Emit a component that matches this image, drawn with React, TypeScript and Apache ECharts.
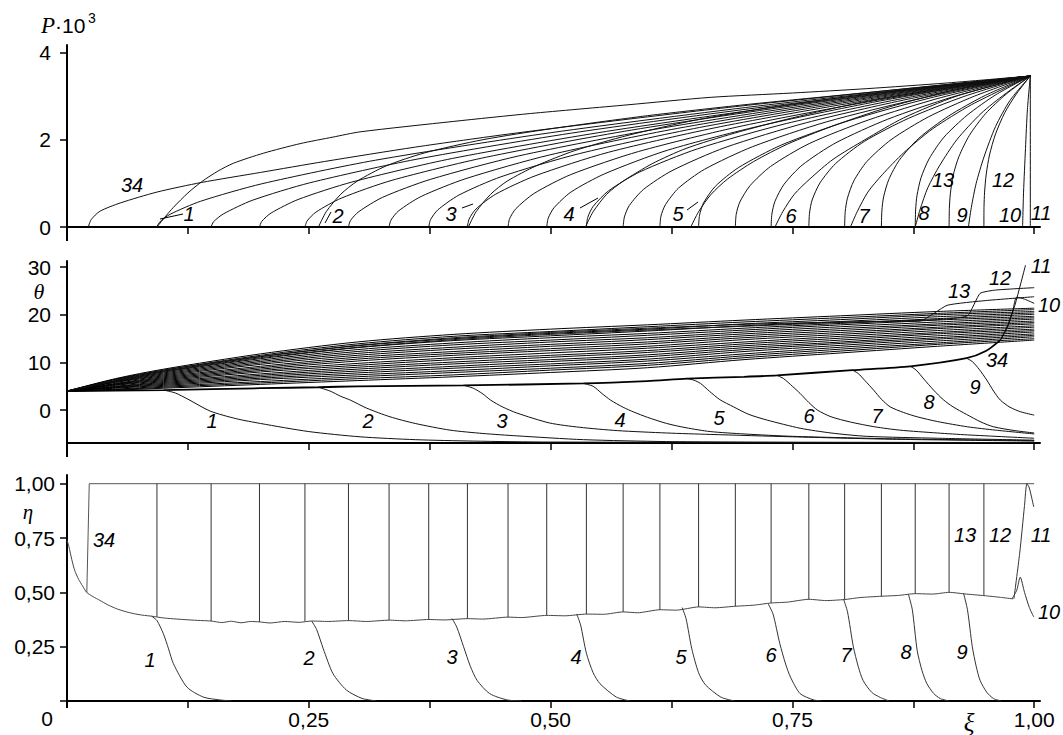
import React, { useEffect, useRef } from "react";
import * as echarts from "echarts";

// ---------------- axes ----------------
const XI_TICKS = [0, 0.125, 0.25, 0.375, 0.5, 0.625, 0.75, 0.875, 1];
const XI_LABELS = [0.25, 0.5, 0.75, 1];
const P_TICKS = [0, 2, 4];
const THETA_TICKS = [0, 10, 20, 30];
const ETA_TICKS = [0, 0.25, 0.5, 0.75, 1];
const ETA_LABELS = [0.25, 0.5, 0.75, 1];

// ---------------- P·10^3 (top panel) ----------------
const P1 = [[0.093,0],[0.101,0.22],[0.11,0.45],[0.125,0.78],[0.14,1.05],[0.156,1.28],[0.172,1.46],[0.203,1.69],[0.241,1.91],[0.275,2.06],[0.303,2.18],[0.4,2.42],[0.479,2.6],[0.58,2.8],[0.665,2.97],[0.75,3.07],[0.827,3.17],[0.91,3.3],[0.996,3.46]];
const P2 = [[0.26,0],[0.268,0.35],[0.283,0.75],[0.3,1.05],[0.33,1.4],[0.37,1.7],[0.43,2.0],[0.5,2.25],[0.6,2.55],[0.7,2.8],[0.8,3.02],[0.9,3.24],[0.996,3.46]];
const P3 = [[0.415,0],[0.423,0.35],[0.438,0.75],[0.455,1.05],[0.485,1.4],[0.525,1.75],[0.58,2.1],[0.65,2.45],[0.73,2.75],[0.82,3.02],[0.9,3.22],[0.996,3.46]];
const P4 = [[0.536,0],[0.544,0.35],[0.558,0.75],[0.575,1.05],[0.605,1.45],[0.64,1.8],[0.69,2.15],[0.75,2.5],[0.82,2.85],[0.9,3.15],[0.996,3.46]];
const P5 = [[0.645,0],[0.653,0.35],[0.666,0.75],[0.683,1.1],[0.71,1.5],[0.745,1.9],[0.79,2.3],[0.85,2.75],[0.92,3.15],[0.996,3.46]];
const P6 = [[0.732,0],[0.74,0.35],[0.752,0.75],[0.768,1.1],[0.792,1.55],[0.825,2.0],[0.865,2.5],[0.92,3.0],[0.996,3.46]];
const P7 = [[0.81,0],[0.817,0.35],[0.828,0.8],[0.843,1.2],[0.865,1.7],[0.895,2.25],[0.935,2.8],[0.996,3.46]];
const P8 = [[0.877,0],[0.882,0.4],[0.89,0.9],[0.902,1.4],[0.92,2.0],[0.945,2.6],[0.97,3.05],[0.996,3.46]];
const P9 = [[0.932,0],[0.935,0.45],[0.94,1.0],[0.948,1.6],[0.96,2.3],[0.975,2.9],[0.996,3.46]];
const P10 = [[0.988,0],[0.989,0.8],[0.991,1.8],[0.993,2.7],[0.996,3.46]];
const P11 = [[0.996,0],[0.996,3.46]];
const P12 = [[0.948,0],[0.9481,0.45],[0.9487,0.8],[0.9504,1.21],[0.9538,1.65],[0.96,2.13],[0.9696,2.62],[0.9816,3.05],[0.996,3.46]];
const P13 = [[0.912,0],[0.9123,0.43],[0.9133,0.76],[0.9162,1.18],[0.9221,1.61],[0.933,2.1],[0.9498,2.6],[0.9708,3.04],[0.996,3.46]];
const P14 = [[0.877,0],[0.8774,0.39],[0.8788,0.72],[0.883,1.13],[0.8913,1.56],[0.9068,2.06],[0.9306,2.56],[0.9603,3.03],[0.996,3.46]];
const P15 = [[0.842,0],[0.8425,0.37],[0.8443,0.69],[0.8497,1.09],[0.8605,1.53],[0.8805,2.03],[0.9113,2.54],[0.9498,3.02],[0.996,3.46]];
const P16 = [[0.804,0],[0.8046,0.35],[0.8069,0.66],[0.8136,1.06],[0.827,1.5],[0.852,2.0],[0.8904,2.52],[0.9384,3.0],[0.996,3.46]];
const P17 = [[0.767,0],[0.7677,0.32],[0.7704,0.62],[0.7785,1.01],[0.7945,1.45],[0.8243,1.96],[0.8701,2.49],[0.9273,2.99],[0.996,3.46]];
const P18 = [[0.728,0],[0.7288,0.3],[0.732,0.59],[0.7414,0.98],[0.7602,1.42],[0.795,1.93],[0.8486,2.47],[0.9156,2.98],[0.996,3.46]];
const P19 = [[0.691,0],[0.6919,0.29],[0.6956,0.57],[0.7063,0.95],[0.7276,1.39],[0.7673,1.91],[0.8283,2.45],[0.9045,2.97],[0.996,3.46]];
const P20 = [[0.653,0],[0.654,0.27],[0.6581,0.55],[0.6702,0.93],[0.6942,1.36],[0.7388,1.88],[0.8074,2.43],[0.8931,2.96],[0.996,3.46]];
const P21 = [[0.613,0],[0.6141,0.25],[0.6187,0.51],[0.6322,0.89],[0.659,1.32],[0.7088,1.84],[0.7854,2.41],[0.8811,2.94],[0.996,3.46]];
const P22 = [[0.575,0],[0.5763,0.23],[0.5813,0.49],[0.596,0.86],[0.6255,1.29],[0.6803,1.82],[0.7645,2.39],[0.8697,2.93],[0.996,3.46]];
const P23 = [[0.537,0],[0.5384,0.22],[0.5439,0.47],[0.56,0.83],[0.5921,1.26],[0.6518,1.79],[0.7436,2.37],[0.8583,2.92],[0.996,3.46]];
const P24 = [[0.496,0],[0.4975,0.2],[0.5035,0.44],[0.521,0.8],[0.556,1.22],[0.621,1.76],[0.721,2.34],[0.846,2.91],[0.996,3.46]];
const P25 = [[0.456,0],[0.4576,0.19],[0.4641,0.42],[0.483,0.77],[0.5208,1.2],[0.591,1.73],[0.699,2.32],[0.834,2.89],[0.996,3.46]];
const P26 = [[0.414,0],[0.4157,0.18],[0.4227,0.41],[0.4431,0.75],[0.4838,1.17],[0.5595,1.71],[0.6759,2.3],[0.8214,2.88],[0.996,3.46]];
const P27 = [[0.374,0],[0.3759,0.17],[0.3833,0.39],[0.4051,0.73],[0.4486,1.15],[0.5295,1.68],[0.6539,2.28],[0.8094,2.87],[0.996,3.46]];
const P28 = [[0.333,0],[0.335,0.16],[0.3429,0.37],[0.3662,0.7],[0.4126,1.11],[0.4988,1.65],[0.6313,2.26],[0.7971,2.86],[0.996,3.46]];
const P29 = [[0.291,0],[0.2931,0.15],[0.3016,0.35],[0.3263,0.68],[0.3756,1.09],[0.4673,1.63],[0.6083,2.24],[0.7845,2.85],[0.996,3.46]];
const P30 = [[0.246,0],[0.2483,0.14],[0.2573,0.34],[0.2835,0.66],[0.336,1.07],[0.4335,1.6],[0.5835,2.22],[0.771,2.84],[0.996,3.46]];
const P31 = [[0.199,0],[0.2014,0.13],[0.211,0.32],[0.2389,0.63],[0.2946,1.03],[0.3983,1.57],[0.5577,2.19],[0.7569,2.82],[0.996,3.46]];
const P32 = [[0.149,0],[0.1515,0.12],[0.1617,0.3],[0.1914,0.61],[0.2506,1.01],[0.3608,1.55],[0.5302,2.18],[0.7419,2.81],[0.996,3.46]];
const P33 = [[0.093,0],[0.0957,0.11],[0.1065,0.29],[0.1382,0.59],[0.2014,0.99],[0.3188,1.53],[0.5,2.16],[0.7251,2.8],[0.996,3.46]];
const P34 = [[0.022,0],[0.025,0.17],[0.034,0.36],[0.055,0.55],[0.093,0.8],[0.139,1.02],[0.2,1.25],[0.266,1.5],[0.36,1.83],[0.46,2.14],[0.58,2.47],[0.704,2.79],[0.85,3.13],[0.996,3.46]];
const P_CURVES = [P1,P2,P3,P4,P5,P6,P7,P8,P9,P10,P11,P12,P13,P14,P15,P16,P17,P18,P19,P20,P21,P22,P23,P24,P25,P26,P27,P28,P29,P30,P31,P32,P33,P34];

// ---------------- theta (middle panel) ----------------
const THETA_LOWER = [[0,4],[0.05,4.1],[0.1,4.2],[0.2,4.6],[0.26,4.8],[0.3,5.0],[0.41,5.2],[0.534,5.6],[0.6,6.1],[0.641,6.6],[0.7,7.0],[0.734,7.3],[0.812,8.4],[0.872,9.2],[0.93,10.9],[0.95,12.4],[0.965,14.7]];
const T1 = [[0.1,4.2],[0.112,3.6],[0.125,2.3],[0.148,-0.2],[0.175,-1.8],[0.2,-2.8],[0.25,-4.5],[0.303,-5.6],[0.36,-6.2],[0.42,-6.5],[0.5,-6.7],[1.0,-6.8]];
const T2 = [[0.26,4.8],[0.272,4.0],[0.283,2.9],[0.293,2.1],[0.31,0.4],[0.334,-1.4],[0.36,-2.8],[0.396,-4.2],[0.43,-4.9],[0.465,-5.4],[0.534,-6.2],[0.62,-6.6],[0.75,-6.75],[1.0,-6.8]];
const T3 = [[0.41,5.2],[0.42,4.6],[0.43,3.4],[0.438,2.1],[0.45,0.7],[0.465,-0.6],[0.499,-2.7],[0.53,-3.6],[0.569,-4.3],[0.62,-4.8],[0.665,-5.1],[0.75,-5.6],[0.85,-6.1],[1.0,-6.5]];
const T4 = [[0.534,5.6],[0.544,5.0],[0.553,3.5],[0.562,2.1],[0.575,0.6],[0.586,-0.4],[0.6,-1.5],[0.62,-2.8],[0.64,-3.7],[0.665,-4.5],[0.7,-5.0],[0.75,-5.5],[0.85,-6.0],[1.0,-6.4]];
const T5 = [[0.641,6.6],[0.648,6.3],[0.655,5.6],[0.664,4.0],[0.675,2.2],[0.689,0.7],[0.705,-0.9],[0.724,-2.1],[0.758,-3.8],[0.79,-4.8],[0.827,-5.5],[0.9,-5.9],[1.0,-6.3]];
const T6 = [[0.734,7.3],[0.741,6.6],[0.75,5.0],[0.758,3.5],[0.767,1.6],[0.776,0.0],[0.79,-1.4],[0.81,-2.5],[0.835,-3.5],[0.861,-4.2],[0.9,-4.8],[0.931,-5.2],[1.0,-5.9]];
const T7 = [[0.812,8.4],[0.818,7.7],[0.825,6.2],[0.834,4.2],[0.842,2.3],[0.851,0.7],[0.865,-0.5],[0.879,-1.4],[0.9,-2.4],[0.931,-3.5],[0.96,-4.2],[1.0,-5.0]];
const T8 = [[0.872,9.2],[0.878,8.4],[0.886,6.5],[0.896,4.2],[0.906,2.2],[0.916,0.7],[0.93,-0.9],[0.945,-2.5],[0.958,-3.5],[0.98,-4.3],[1.0,-4.8]];
const T9 = [[0.93,10.9],[0.936,10.2],[0.943,8.6],[0.951,6.3],[0.958,4.0],[0.965,2.1],[0.975,0.6],[0.986,-0.35],[1.0,-1.05]];
const T10 = [[0.965,14.7],[0.972,17.2],[0.978,21.0],[0.982,23.7],[0.99,23.3],[1.0,22.4]];
const T11 = [[0.965,14.7],[0.973,18.0],[0.98,22.0],[0.986,26.5],[0.991,30.4]];
const T12 = [[0,4],[0.1,8.1],[0.2,11.0],[0.3,13.2],[0.4,14.8],[0.5,15.9],[0.6,16.8],[0.7,17.6],[0.8,18.4],[0.9,19.0],[0.931,19.8],[0.944,24.5],[0.96,25.2],[1.0,25.7]];
const T13 = [[0,4],[0.1,8.4],[0.2,11.3],[0.3,13.6],[0.4,15.2],[0.5,16.3],[0.6,17.2],[0.7,18.0],[0.8,18.5],[0.882,18.7],[0.91,22.0],[0.95,23.0],[1.0,23.8]];
const THETA_FAN_XI = [0, 0.05, 0.1, 0.2, 0.3, 0.4, 0.5, 0.6, 0.7, 0.8, 0.9, 1.0];
const THETA_FAN = [
  [4, 6.6, 8.6, 11.8, 14.3, 15.9, 17.0, 17.9, 18.9, 19.8, 20.7, 21.4],
  [4, 6.5, 8.4, 11.5, 13.9, 15.5, 16.5, 17.5, 18.5, 19.4, 20.3, 21.1],
  [4, 6.4, 8.2, 11.2, 13.5, 15.0, 16.1, 17.0, 18.1, 19.0, 20.0, 20.7],
  [4, 6.2, 8.0, 10.8, 13.1, 14.6, 15.6, 16.6, 17.7, 18.6, 19.6, 20.4],
  [4, 6.1, 7.8, 10.5, 12.7, 14.1, 15.2, 16.1, 17.2, 18.2, 19.2, 20.1],
  [4, 6.0, 7.6, 10.2, 12.3, 13.7, 14.7, 15.7, 16.8, 17.9, 18.9, 19.7],
  [4, 5.9, 7.4, 9.9, 11.9, 13.2, 14.3, 15.2, 16.4, 17.5, 18.5, 19.4],
  [4, 5.8, 7.2, 9.6, 11.5, 12.8, 13.8, 14.8, 16.0, 17.1, 18.1, 19.1],
  [4, 5.6, 7.0, 9.2, 11.1, 12.3, 13.4, 14.3, 15.6, 16.7, 17.8, 18.7],
  [4, 5.5, 6.8, 8.9, 10.7, 11.9, 12.9, 13.9, 15.2, 16.3, 17.4, 18.4],
  [4, 5.4, 6.6, 8.6, 10.3, 11.5, 12.5, 13.4, 14.8, 15.9, 17.1, 18.1],
  [4, 5.3, 6.4, 8.3, 9.8, 11.0, 12.0, 13.0, 14.3, 15.5, 16.7, 17.7],
  [4, 5.2, 6.2, 8.0, 9.4, 10.6, 11.5, 12.5, 13.9, 15.1, 16.3, 17.4],
  [4, 5.0, 6.0, 7.6, 9.0, 10.1, 11.1, 12.1, 13.5, 14.7, 16.0, 17.0],
  [4, 4.9, 5.8, 7.3, 8.6, 9.7, 10.6, 11.6, 13.1, 14.3, 15.6, 16.7],
  [4, 4.8, 5.6, 7.0, 8.2, 9.2, 10.2, 11.2, 12.7, 14.0, 15.2, 16.4],
  [4, 4.7, 5.4, 6.7, 7.8, 8.8, 9.7, 10.7, 12.3, 13.6, 14.9, 16.0],
  [4, 4.6, 5.2, 6.4, 7.4, 8.3, 9.3, 10.3, 11.8, 13.2, 14.5, 15.7],
  [4, 4.4, 5.0, 6.0, 7.0, 7.9, 8.8, 9.8, 11.4, 12.8, 14.1, 15.4],
  [4, 4.3, 4.8, 5.7, 6.6, 7.4, 8.4, 9.4, 11.0, 12.4, 13.8, 15.0],
  [4, 4.2, 4.6, 5.4, 6.2, 7.0, 7.9, 8.9, 10.6, 12.0, 13.4, 14.7],
];

// ---------------- eta (bottom panel) ----------------
const ETA_BASE = [[0,0.74],[0.002,0.71],[0.005,0.65],[0.008,0.6],[0.012,0.56],[0.016,0.53],[0.0203,0.5],[0.027,0.48],[0.034,0.463],[0.042,0.443],[0.051,0.425],[0.06,0.412],[0.069,0.402],[0.078,0.395],[0.088,0.39],[0.1,0.382],[0.12,0.375],[0.135,0.371],[0.149,0.368],[0.16,0.361],[0.17,0.367],[0.18,0.36],[0.19,0.366],[0.199,0.364],[0.21,0.359],[0.225,0.366],[0.24,0.362],[0.253,0.368],[0.27,0.366],[0.291,0.37],[0.31,0.366],[0.333,0.372],[0.35,0.369],[0.374,0.375],[0.39,0.373],[0.414,0.379],[0.43,0.377],[0.456,0.386],[0.47,0.384],[0.496,0.394],[0.515,0.392],[0.537,0.4],[0.555,0.399],[0.575,0.41],[0.59,0.406],[0.613,0.42],[0.63,0.418],[0.653,0.433],[0.67,0.429],[0.691,0.436],[0.71,0.441],[0.728,0.451],[0.745,0.455],[0.767,0.468],[0.785,0.462],[0.804,0.467],[0.82,0.476],[0.842,0.482],[0.86,0.486],[0.877,0.494],[0.895,0.492],[0.912,0.5],[0.93,0.492],[0.948,0.485],[0.965,0.477],[0.978,0.47]];
const ETA_FRONTS = [[0.948,0.485],[0.912,0.5],[0.877,0.494],[0.842,0.482],[0.804,0.467],[0.767,0.468],[0.728,0.451],[0.691,0.436],[0.653,0.433],[0.613,0.42],[0.575,0.41],[0.537,0.4],[0.496,0.394],[0.456,0.386],[0.414,0.379],[0.374,0.375],[0.333,0.372],[0.291,0.37],[0.246,0.367],[0.199,0.364],[0.149,0.368],[0.093,0.388]];
const ETA34 = [[0.0205,0.5],[0.023,1.0],[1.0,1.0]];
const E1 = [[0.0876,0.39],[0.093,0.37],[0.0996,0.31],[0.105,0.24],[0.11,0.172],[0.124,0.064],[0.141,0.018],[0.158,0.005],[0.17,0]];
const E2 = [[0.253,0.368],[0.258,0.33],[0.265,0.24],[0.275,0.126],[0.289,0.05],[0.305,0.012],[0.32,0]];
const E3 = [[0.398,0.38],[0.403,0.34],[0.41,0.25],[0.417,0.16],[0.424,0.095],[0.437,0.034],[0.455,0.005],[0.47,0]];
const E4 = [[0.527,0.4],[0.531,0.35],[0.537,0.22],[0.544,0.13],[0.551,0.08],[0.568,0.018],[0.582,0]];
const E5 = [[0.636,0.43],[0.64,0.38],[0.646,0.24],[0.653,0.13],[0.66,0.075],[0.676,0.018],[0.69,0]];
const E6 = [[0.725,0.447],[0.73,0.4],[0.737,0.264],[0.743,0.17],[0.748,0.11],[0.758,0.034],[0.772,0.005],[0.78,0]];
const E7 = [[0.803,0.467],[0.807,0.41],[0.813,0.25],[0.818,0.16],[0.823,0.095],[0.832,0.04],[0.841,0.016],[0.85,0]];
const E8 = [[0.87,0.49],[0.874,0.42],[0.879,0.233],[0.884,0.14],[0.889,0.08],[0.896,0.035],[0.903,0.011],[0.912,0]];
const E9 = [[0.927,0.495],[0.931,0.42],[0.936,0.25],[0.94,0.16],[0.944,0.095],[0.951,0.04],[0.958,0.011],[0.966,0]];
const E10 = [[0.977,0.47],[0.982,0.51],[0.9855,0.57],[0.99,0.5],[0.995,0.43],[0.9995,0.387]];
const E11 = [[0.979,0.47],[0.985,0.68],[0.99,0.9],[0.9925,1.0],[0.995,0.98],[0.9995,0.893]];

// ---------------- curve number labels ----------------
const LABELS_P = [["34",132,185],["1",189,214],["2",338,216],["3",451,214],["4",569,214],["5",678,214],["6",791,216],["7",864,216],["8",924,213],["9",962,215],["10",1010,215],["11",1041,213],["13",943,180],["12",1003,180]];
const LABELS_THETA = [["1",212,421],["2",368,421],["3",502,421],["4",620,420],["5",719,418],["6",809,416],["7",877,416],["8",929,402],["9",975,387],["34",997,360],["13",959,291],["12",1000,278],["11",1041,266],["10",1049,305]];
const LABELS_ETA = [["34",104,540],["1",150,660],["2",309,658],["3",452,657],["4",576,657],["5",681,657],["6",771,655],["7",846,655],["8",906,652],["9",962,652],["13",965,535],["12",1000,535],["11",1041,535],["10",1049,612]];
const LEADERS = [[160,219,183,214],[325,223,331,212],[462,208,473,204],[580,208,598,198],[687,210,698,202]];

const INK = "#111";
const SANS = "Liberation Sans";
const SERIF = "Liberation Serif";

function line(data: number[][], g: number, smooth: number | boolean = 0.3, color = INK, width = 1) {
  return {
    type: "line", xAxisIndex: g, yAxisIndex: g, data, symbol: "none", showSymbol: false,
    smooth, lineStyle: { color, width }, silent: true, z: 3,
  };
}

function txt(text: string, x: number, y: number, size = 20, family = SANS, style = "italic", align = "center") {
  return {
    type: "text", x, y, silent: true, z: 10,
    style: { text, fill: "#000", fontSize: size, fontFamily: family, fontStyle: style,
      textAlign: align, textVerticalAlign: "middle", align, verticalAlign: "middle" },
  };
}
function seg(x1: number, y1: number, x2: number, y2: number, w = 1) {
  return { type: "line", silent: true, z: 10, shape: { x1, y1, x2, y2 }, style: { stroke: "#000", lineWidth: w } };
}

function buildOption() {
  const grids = [
    { left: 67, top: 45, width: 973, height: 182 },
    { left: 67, top: 261, width: 973, height: 182 },
    { left: 67, top: 475, width: 973, height: 226 },
  ];
  const axisLine = { show: true, onZero: false, lineStyle: { color: "#000", width: 2 } };
  const xAxis = [0, 1, 2].map((g) => ({
    type: "value", gridIndex: g, min: 0, max: 1.006, axisLine,
    axisTick: { show: true, customValues: XI_TICKS, length: 7, lineStyle: { color: "#000", width: 1.5 } },
    axisLabel: { show: g === 2, customValues: XI_LABELS, margin: 8, fontSize: 21, fontFamily: SANS, color: "#000",
      formatter: (v: number) => v.toFixed(2).replace(".", ",") },
    splitLine: { show: false },
  }));
  const yCommon = (g: number, min: number, max: number, ticks: number[], labels: number[], fmt: (v: number) => string, margin: number) => ({
    type: "value", gridIndex: g, min, max, axisLine,
    axisTick: { show: true, customValues: ticks, length: 7, lineStyle: { color: "#000", width: 1.5 } },
    axisLabel: { customValues: labels, margin, fontSize: 21, fontFamily: SANS, color: "#000", formatter: fmt },
    splitLine: { show: false },
  });
  const yAxis = [
    yCommon(0, 0, 4.17, P_TICKS, P_TICKS, (v) => String(v), 16),
    yCommon(1, -6.9, 31.3, THETA_TICKS, THETA_TICKS, (v) => String(v), 16),
    yCommon(2, 0, 1.04, ETA_TICKS, ETA_LABELS, (v) => v.toFixed(2).replace(".", ","), 12),
  ];

  const series: any[] = [];
  P_CURVES.forEach((c) => series.push(line(c, 0, 0.25, INK, 1)));

  series.push(line(THETA_LOWER, 1, 0.25, "#000", 1.8));
  [T1, T2, T3, T4, T5, T6, T7, T8, T9].forEach((c) => series.push(line(c, 1, 0.25, INK, 1)));
  series.push(line(T10, 1, 0.25, INK, 1));
  series.push(line(T11, 1, 0.25, INK, 1));
  THETA_FAN.forEach((row) => series.push(line(THETA_FAN_XI.map((x, i) => [x, row[i]]), 1, 0.3, "#000", 1)));
  series.push(line(T12, 1, 0.15, INK, 1));
  series.push(line(T13, 1, 0.15, INK, 1));

  series.push(line(ETA_BASE, 2, 0.2, "#444", 1));
  series.push(line(ETA34, 2, false, "#555", 1));
  ETA_FRONTS.forEach(([x, e]) => series.push(line([[x, e], [x, 1.0]], 2, false, "#333", 1)));
  [E1, E2, E3, E4, E5, E6, E7, E8, E9].forEach((c) => series.push(line(c, 2, 0.25, "#333", 1)));
  series.push(line(E10, 2, 0.25, "#333", 1));
  series.push(line(E11, 2, 0.25, "#333", 1));

  const graphic: any[] = [];
  LABELS_P.forEach(([t, x, y]) => graphic.push(txt(t as string, x as number, y as number)));
  LABELS_THETA.forEach(([t, x, y]) => graphic.push(txt(t as string, x as number, y as number)));
  LABELS_ETA.forEach(([t, x, y]) => graphic.push(txt(t as string, x as number, y as number)));
  LEADERS.forEach(([a, b, c, d]) => graphic.push(seg(a, b, c, d, 1)));
  graphic.push(seg(67, 227, 67, 241, 2));
  graphic.push(seg(67, 443, 67, 457, 2));
  graphic.push(seg(67, 701, 67, 708, 2));
  graphic.push(txt("P", 48, 25, 23, SERIF, "italic"));
  graphic.push(txt("·10", 55, 25, 21, SANS, "normal", "left"));
  graphic.push(txt("3", 88, 18, 14, SANS, "normal", "left"));
  graphic.push(txt("θ", 39, 291, 22, SERIF, "italic"));
  graphic.push(txt("η", 28, 512, 21, SERIF, "italic"));
  graphic.push(txt("ξ", 969, 722, 25, SERIF, "italic"));
  graphic.push(txt("0", 47, 718, 21, SANS, "normal"));

  return { animation: false, backgroundColor: "#fff", grid: grids, xAxis, yAxis, series, graphic };
}

export default function App() {
  const ref = useRef<HTMLDivElement>(null);
  useEffect(() => {
    const chart = echarts.init(ref.current!, null, { renderer: "svg" });
    chart.setOption(buildOption() as any);
    return () => chart.dispose();
  }, []);
  return <div ref={ref} style={{ position: "absolute", left: 0, top: 0, width: 1063, height: 735, background: "#fff" }} />;
}
